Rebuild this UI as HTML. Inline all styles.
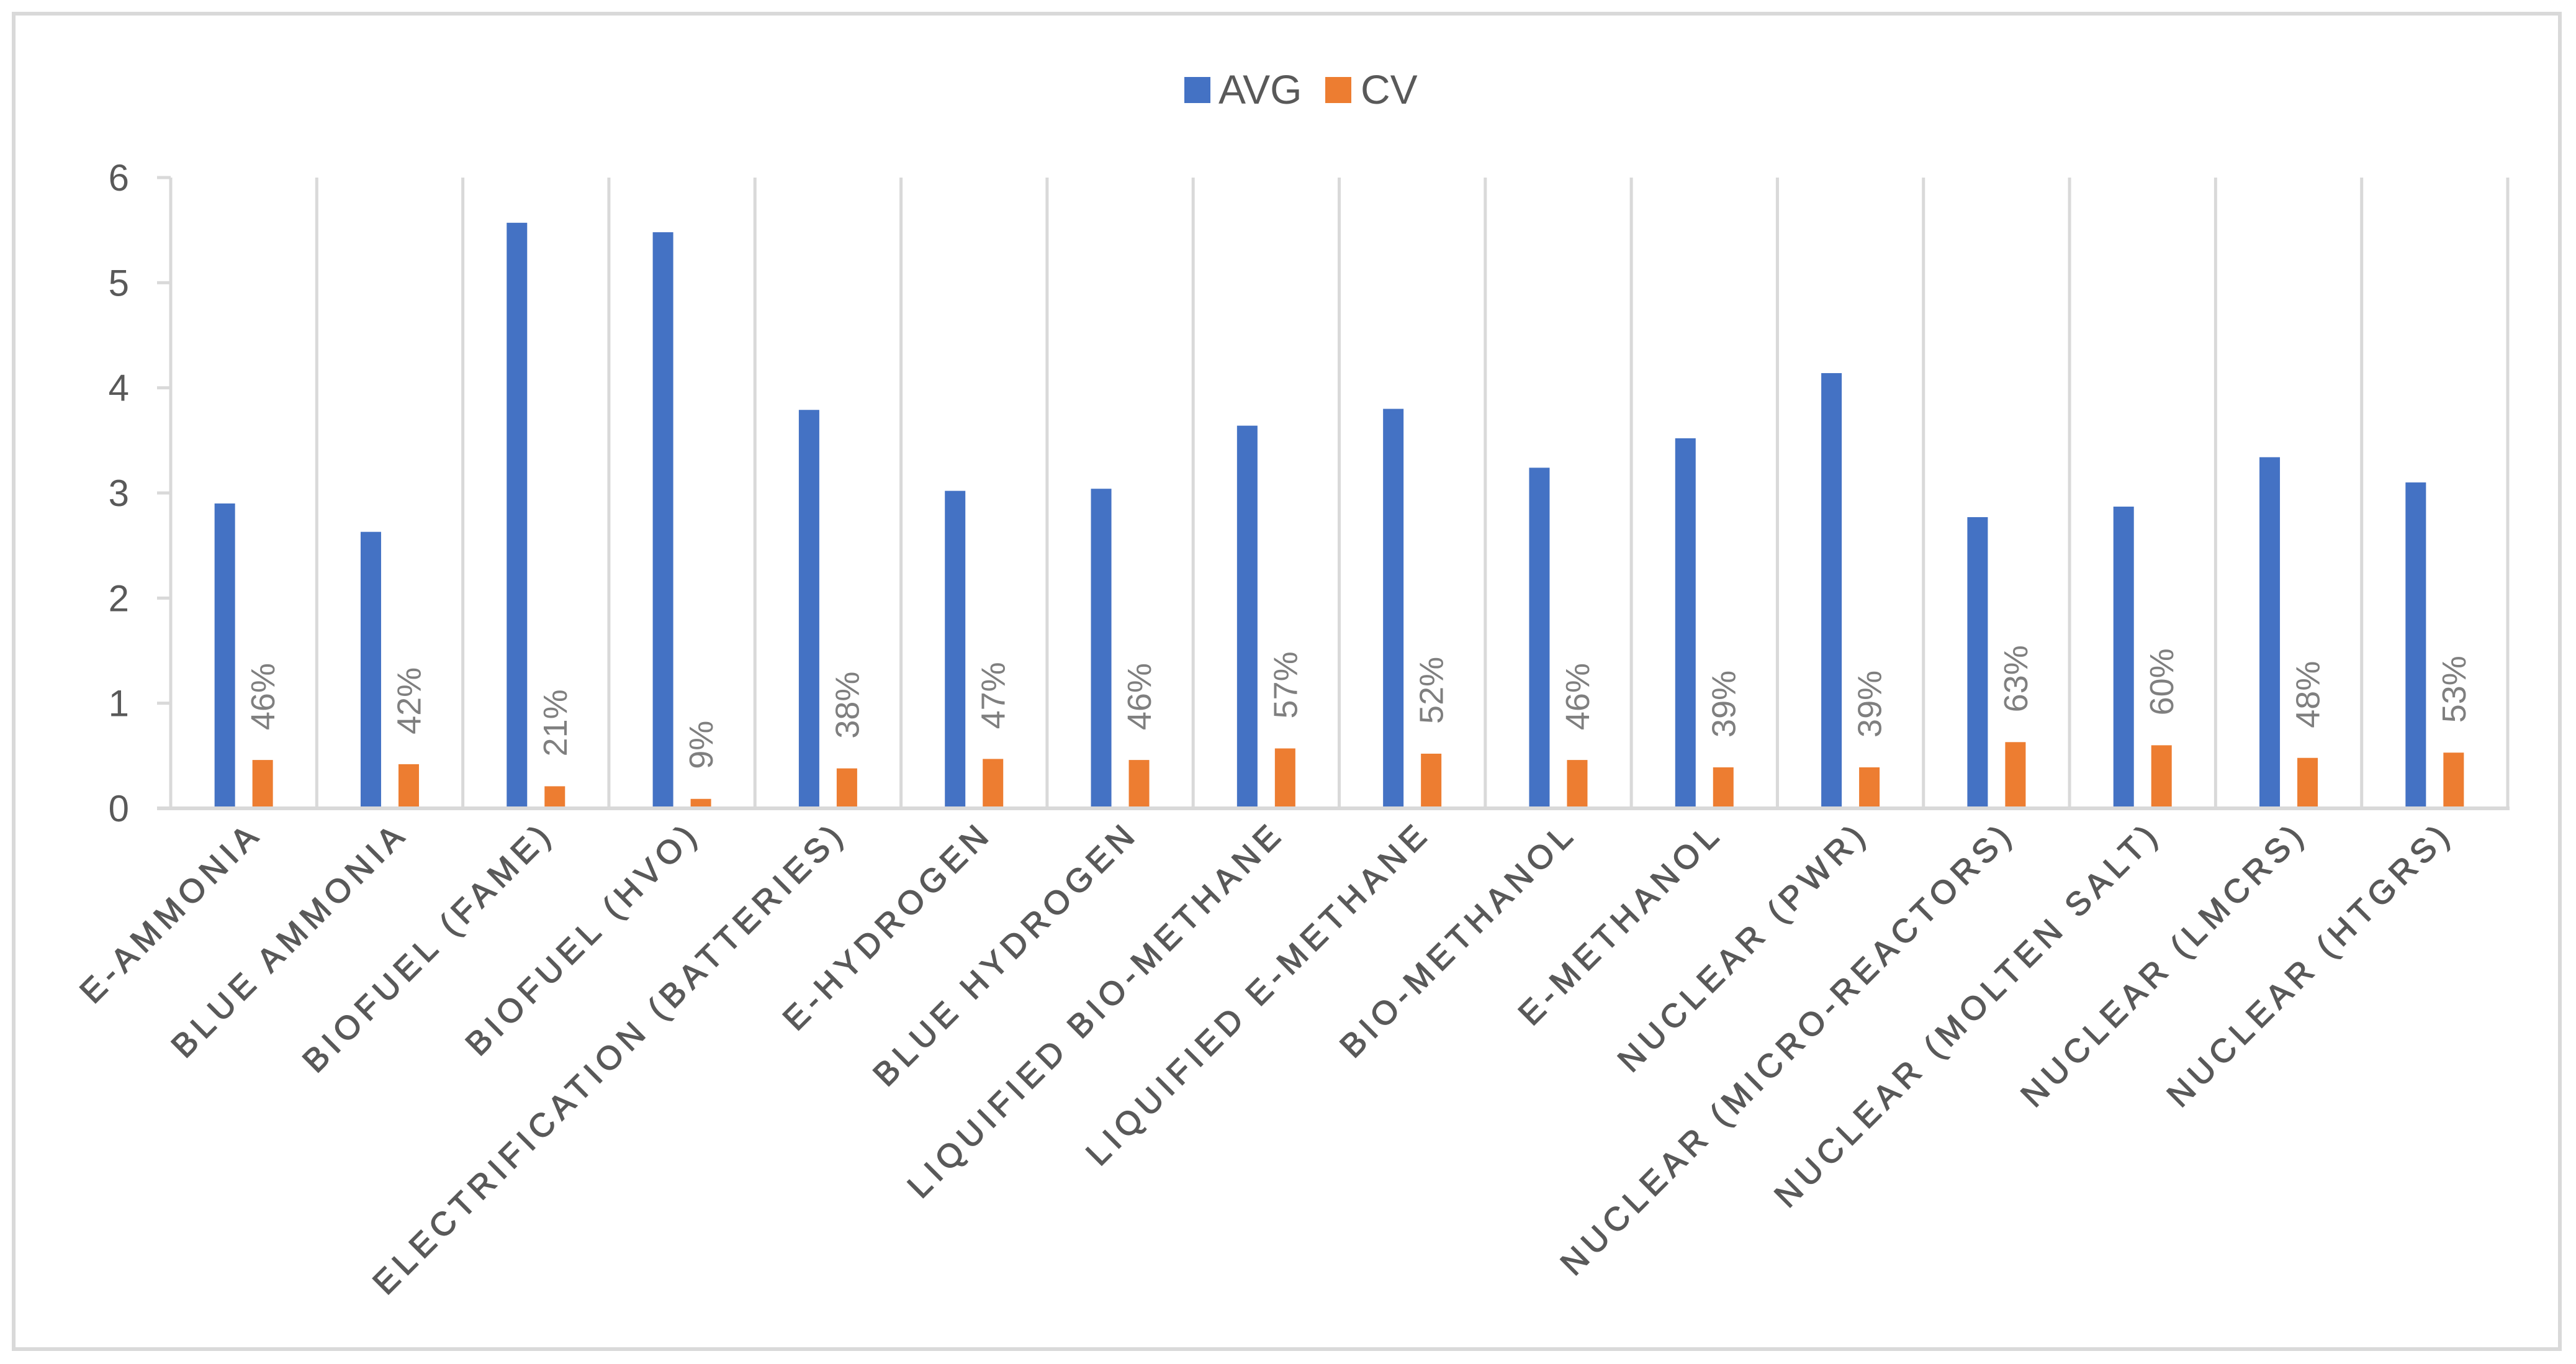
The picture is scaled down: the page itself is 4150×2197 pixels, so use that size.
<!DOCTYPE html>
<html><head><meta charset="utf-8">
<style>
html,body{margin:0;padding:0;background:#fff;}
svg{display:block;font-family:"Liberation Sans",sans-serif;}
</style></head>
<body>
<svg id="chart" width="4150" height="2197" viewBox="0 0 4150 2197">
  <rect x="22" y="22" width="4102" height="2151" fill="#fff" stroke="#d9d9d9" stroke-width="6"/>
  <g>
    <g>
      <rect x="1908" y="124" width="42" height="42" fill="#4472c4"/>
      <text x="1963" y="167" font-size="66" fill="#595959">AVG</text>
    </g>
    <g>
      <rect x="2135" y="124" width="42" height="42" fill="#ed7d31"/>
      <text x="2192" y="167" font-size="66" fill="#595959">CV</text>
    </g>
  </g>
  <g id="grid"></g>
  <g id="yaxis"></g>
  <g id="bars"></g>
  <g id="labels"></g>
  <g id="xaxis"></g>
</svg>
<script>
const categories = ["E-AMMONIA","BLUE AMMONIA","BIOFUEL (FAME)","BIOFUEL (HVO)","ELECTRIFICATION (BATTERIES)","E-HYDROGEN","BLUE HYDROGEN","LIQUIFIED BIO-METHANE","LIQUIFIED E-METHANE","BIO-METHANOL","E-METHANOL","NUCLEAR (PWR)","NUCLEAR (MICRO-REACTORS)","NUCLEAR (MOLTEN SALT)","NUCLEAR (LMCRS)","NUCLEAR (HTGRS)"];
const avgValues = [2.90,2.63,5.57,5.48,3.79,3.02,3.04,3.64,3.80,3.24,3.52,4.14,2.77,2.87,3.34,3.10];
const cvValues = [0.46,0.42,0.21,0.09,0.38,0.47,0.46,0.57,0.52,0.46,0.39,0.39,0.63,0.60,0.48,0.53];
const yTicks = [0,1,2,3,4,5,6];

const NS = "http://www.w3.org/2000/svg";
const plotL = 275, plotR = 4040, plotT = 286, plotB = 1302, yMax = 6;
const bandW = (plotR - plotL) / categories.length;
function xBand(i){ return plotL + i * bandW; }
function yScale(v){ return plotB - (v / yMax) * (plotB - plotT); }
function mk(tag, attrs, parent){
  const e = document.createElementNS(NS, tag);
  for (const k in attrs) e.setAttribute(k, attrs[k]);
  parent.appendChild(e);
  return e;
}
const grid = document.getElementById('grid');
const yaxis = document.getElementById('yaxis');
const bars = document.getElementById('bars');
const labels = document.getElementById('labels');
const xaxis = document.getElementById('xaxis');

for (let i = 0; i <= categories.length; i++) {
  const l = mk('line', {x1: xBand(i), x2: xBand(i), y1: plotT, y2: plotB, stroke: '#d9d9d9', 'stroke-width': 5}, grid);
  
  
}
const base = mk('line', {x1: 253, x2: plotR + 3, y1: plotB, y2: plotB, stroke: '#d9d9d9', 'stroke-width': 6}, grid);



yTicks.forEach(t => {
  const y = yScale(t);
  const tk = mk('line', {x1: 253, x2: plotL, y1: y, y2: y, stroke: '#d9d9d9', 'stroke-width': 5}, yaxis);
  
  
  const tx = mk('text', {x: 208, y: y + 21, 'font-size': 60, fill: '#595959', 'text-anchor': 'end'}, yaxis);
  tx.textContent = String(t);
  
  
});

const barW = 33, gap = 28;
categories.forEach((c, i) => {
  const cx = xBand(i) + bandW / 2;
  const bx = cx - gap / 2 - barW;
  const ox = cx + gap / 2;
  const b = mk('rect', {x: bx, y: yScale(avgValues[i]), width: barW, height: plotB - 3 - yScale(avgValues[i]), fill: '#4472c4'}, bars);
  
  
  const o = mk('rect', {x: ox, y: yScale(cvValues[i]), width: barW, height: plotB - 3 - yScale(cvValues[i]), fill: '#ed7d31'}, bars);
  
  
  const lx = ox + barW / 2 + 19, ly = yScale(cvValues[i]) - 48;
  const lt = mk('text', {x: lx, y: ly, 'font-size': 54, fill: '#7f7f7f', transform: 'rotate(-90 ' + lx + ' ' + ly + ')'}, labels);
  lt.textContent = Math.round(cvValues[i] * 100) + '%';
  
  
  const ax = cx + 32, ay = 1345;
  const ct = mk('text', {x: ax, y: ay, 'font-size': 53, fill: '#595959', stroke: '#595959', 'stroke-width': 1.5, 'text-anchor': 'end', 'letter-spacing': 9, transform: 'rotate(-45 ' + ax + ' ' + ay + ')'}, xaxis);
  ct.textContent = c;
  
  
});
</script>
</body></html>
